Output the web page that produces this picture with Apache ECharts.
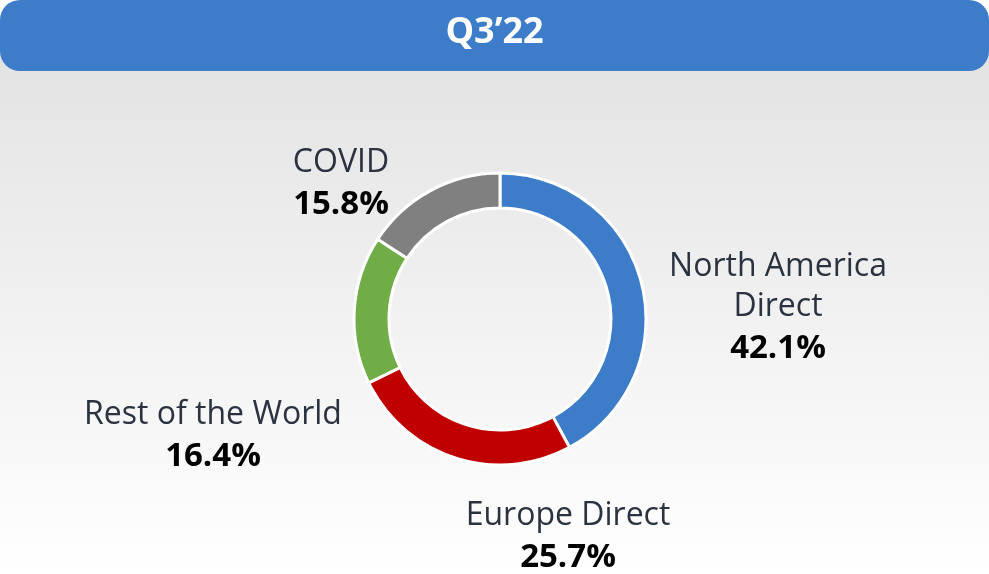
<!DOCTYPE html>
<html>
<head>
<meta charset="utf-8">
<script src="https://cdn.jsdelivr.net/npm/echarts@6/dist/echarts.min.js"></script>
<style>
  html, body { margin: 0; padding: 0; background: #ffffff; }
  #chart { width: 989px; height: 574px; }
</style>
</head>
<body>
<div id="chart"></div>
<script>
// 数据
const quarterTitle = 'Q3\u201922';
const segmentNames = ['North America\nDirect', 'Europe Direct', 'Rest of the World', 'COVID'];
const segmentValues = [42.1, 25.7, 16.4, 15.8];
const segmentColors = ['#3d7cc9', '#c00000', '#70ad47', '#808080'];

// label anchor points (text only, not marks)
const labelSpots = [
  {x: 778, y: 309},
  {x: 568, y: 538},
  {x: 213, y: 437},
  {x: 341, y: 185}
];

const chart = echarts.init(document.getElementById('chart'));

const option = {
  backgroundColor: 'transparent',
  graphic: [
    {
      type: 'rect',
      z: -10,
      shape: {x: 0, y: 30, width: 989, height: 544},
      style: {
        fill: new echarts.graphic.LinearGradient(0, 0, 0, 1, [
          {offset: 0, color: '#e2e2e2'},
          {offset: 1, color: '#ffffff'}
        ])
      }
    },
    {
      type: 'rect',
      z: -5,
      shape: {x: 0, y: 0, width: 989, height: 71, r: 20},
      style: {fill: '#3d7cc9'}
    }
  ],
  title: {
    text: quarterTitle,
    left: 'center',
    top: 10,
    textStyle: {
      color: '#ffffff',
      fontFamily: 'Open Sans',
      fontWeight: 'bold',
      fontSize: 36
    }
  },
  series: [
    {
      type: 'pie',
      center: [500, 319],
      radius: [111, 146],
      startAngle: 90,
      clockwise: true,
      silent: true,
      itemStyle: {
        borderColor: '#ffffff',
        borderWidth: 3
      },
      labelLine: {show: false},
      label: {
        show: true,
        position: 'outside',
        align: 'center',
        formatter: p => '{n|' + p.name.split('\n').join('}\n{n|') + '}\n{v|' + p.value.toFixed(1) + '%}',
        rich: {
          n: {
            fontFamily: 'Open Sans',
            fontSize: 32,
            color: '#2b3340',
            lineHeight: 40,
            align: 'center'
          },
          v: {
            fontFamily: 'Open Sans',
            fontSize: 33,
            fontWeight: 'bold',
            color: '#000000',
            lineHeight: 44,
            align: 'center'
          }
        }
      },
      labelLayout: params => ({
        x: labelSpots[params.dataIndex].x,
        y: labelSpots[params.dataIndex].y,
        align: 'center',
        verticalAlign: 'middle'
      }),
      data: segmentValues.map((v, i) => ({
        name: segmentNames[i],
        value: v,
        itemStyle: {color: segmentColors[i]}
      }))
    }
  ]
};

chart.setOption(option);
</script>
</body>
</html>
